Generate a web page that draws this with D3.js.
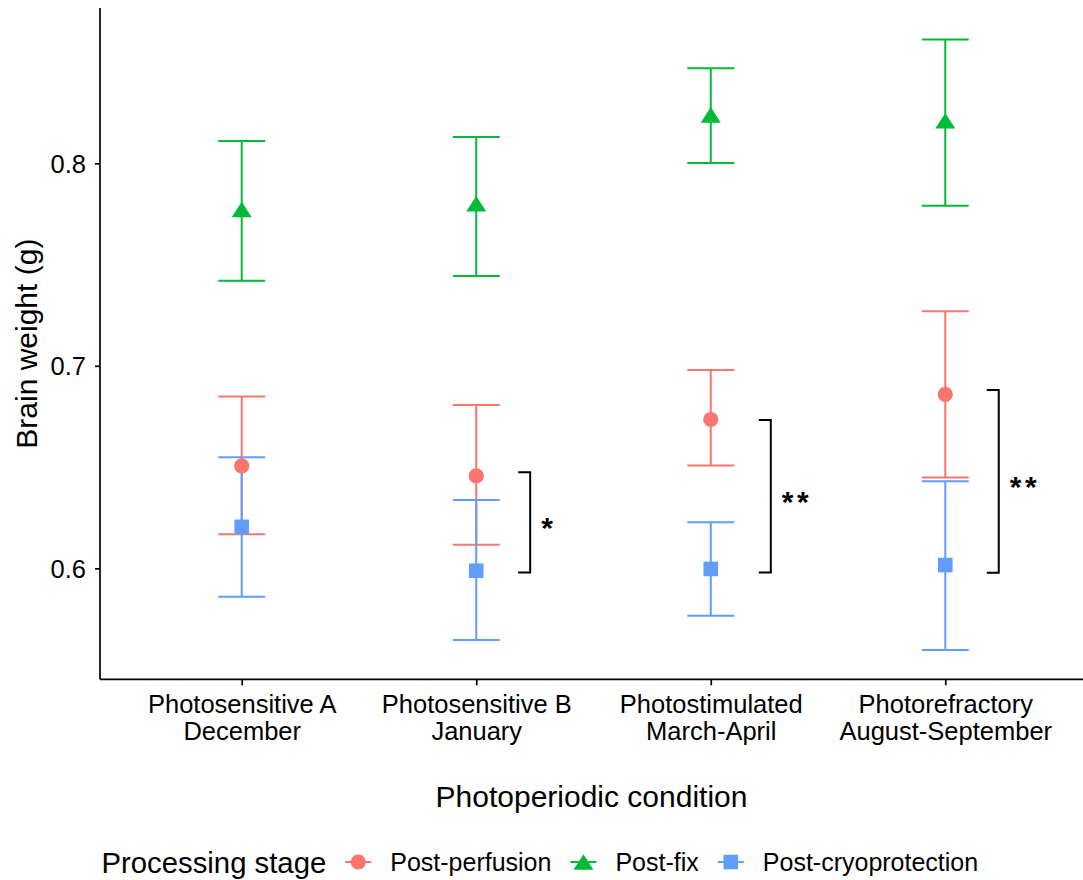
<!DOCTYPE html>
<html>
<head>
<meta charset="utf-8">
<script src="https://cdn.jsdelivr.net/npm/d3@7"></script>
<style>
  html, body { margin: 0; padding: 0; background: #fff; }
  svg { display: block; font-family: "Liberation Sans", Arial, Helvetica, sans-serif; }
</style>
</head>
<body>
<svg id="chart" width="1083" height="880"></svg>
<script>
// ---- data ----
const categories = [
  "Photosensitive A\nDecember",
  "Photosensitive B\nJanuary",
  "Photostimulated\nMarch-April",
  "Photorefractory\nAugust-September"
];
const stages = ["Post-perfusion", "Post-fix", "Post-cryoprotection"];
const stageColors = ["#F8766D", "#00BA38", "#619CFF"];
const stageShapes = ["circle", "triangle", "square"];

const perfusionMean = [0.6506, 0.6457, 0.6735, 0.6859];
const perfusionLow  = [0.6168, 0.6117, 0.6508, 0.6449];
const perfusionHigh = [0.6849, 0.6806, 0.6979, 0.7269];

const fixMean = [0.7772, 0.7800, 0.8239, 0.8210];
const fixLow  = [0.7420, 0.7443, 0.8001, 0.7791];
const fixHigh = [0.8110, 0.8130, 0.8470, 0.8612];

const cryoMean = [0.6205, 0.5988, 0.5997, 0.6016];
const cryoLow  = [0.5860, 0.5646, 0.5766, 0.5597];
const cryoHigh = [0.6549, 0.6337, 0.6227, 0.6430];

const yTicks = [0.6, 0.7, 0.8];

// significance brackets
const bracketGroup  = [1, 2, 3];
const bracketTop    = [0.6474, 0.6732, 0.6880];
const bracketBottom = [0.5980, 0.5980, 0.5978];
const bracketLabel  = ["*", "**", "**"];
const bracketOffset = [0.23, 0.256, 0.228]; // in category steps

// ---- build ----
const means = [perfusionMean, fixMean, cryoMean];
const lows  = [perfusionLow, fixLow, cryoLow];
const highs = [perfusionHigh, fixHigh, cryoHigh];
const rows = [];
stages.forEach((s, si) => {
  categories.forEach((c, ci) => {
    rows.push({stage: si, cat: c, mean: means[si][ci], low: lows[si][ci], high: highs[si][ci]});
  });
});

const svg = d3.select("#chart");
const pLeft = 100, pRight = 1083, pTop = 8, pBottom = 679.3;
const smallFont = 25.5, bigFont = 30;

const x = d3.scalePoint().domain(categories).range([101, 1086]).padding(0.6);
const y = d3.scaleLinear().domain([0.5452, 0.8767]).range([pBottom, pTop]);
const step = x.step();

// axes
const yAxis = svg.append("g")
  .attr("transform", `translate(${pLeft},0)`)
  .call(d3.axisLeft(y).tickValues(yTicks).tickFormat(d3.format(".1f")).tickSize(5).tickPadding(9));
yAxis.select(".domain").attr("d", `M0,${pTop}V${pBottom}`).attr("stroke", "#000").attr("stroke-width", 1.7);
yAxis.selectAll(".tick line").attr("stroke", "#000").attr("stroke-width", 1.7);
yAxis.selectAll(".tick text").attr("font-size", smallFont).attr("fill", "#000")
  .attr("font-family", "Liberation Sans, Arial, sans-serif").attr("dy", "0.35em");

const xAxis = svg.append("g")
  .attr("transform", `translate(0,${pBottom})`)
  .call(d3.axisBottom(x).tickSize(6).tickFormat(""));
xAxis.select(".domain").attr("d", `M${pLeft},0H${pRight}`).attr("stroke", "#000").attr("stroke-width", 1.7);
xAxis.selectAll(".tick line").attr("stroke", "#000").attr("stroke-width", 1.7);
xAxis.selectAll(".tick").each(function(d) {
  const t = d3.select(this).append("text")
    .attr("text-anchor", "middle").attr("font-size", smallFont).attr("fill", "#000")
    .attr("font-family", "Liberation Sans, Arial, sans-serif");
  d.split("\n").forEach((line, i) => {
    t.append("tspan").attr("x", 0).attr("y", 34 + i * 27).text(line);
  });
});

// axis titles
svg.append("text")
  .attr("x", (pLeft + pRight) / 2).attr("y", 807)
  .attr("text-anchor", "middle").attr("font-size", bigFont).attr("fill", "#000")
  .text("Photoperiodic condition");
svg.append("text")
  .attr("transform", `translate(37,${(pTop + pBottom) / 2}) rotate(-90)`)
  .attr("text-anchor", "middle").attr("font-size", bigFont).attr("fill", "#000")
  .text("Brain weight (g)");

// error bars
const capHalf = step * 0.1;
const eb = svg.append("g").selectAll("g").data(rows).join("g")
  .attr("stroke", d => stageColors[d.stage]).attr("stroke-width", 2).attr("fill", "none");
eb.append("line")
  .attr("x1", d => x(d.cat)).attr("x2", d => x(d.cat))
  .attr("y1", d => y(d.low)).attr("y2", d => y(d.high));
eb.append("line")
  .attr("x1", d => x(d.cat) - capHalf).attr("x2", d => x(d.cat) + capHalf)
  .attr("y1", d => y(d.low)).attr("y2", d => y(d.low));
eb.append("line")
  .attr("x1", d => x(d.cat) - capHalf).attr("x2", d => x(d.cat) + capHalf)
  .attr("y1", d => y(d.high)).attr("y2", d => y(d.high));

// marker shapes
function shapePath(shape) {
  if (shape === "circle") return d3.symbol(d3.symbolCircle, 7.6 * 7.6 * Math.PI)();
  if (shape === "square") return "M-7.3,-7.3H7.3V7.3H-7.3Z";
  // triangle with bounding box centred at origin
  return "M0,-7.8L10,7.8L-10,7.8Z";
}
svg.append("g").selectAll("path").data(rows).join("path")
  .attr("transform", d => `translate(${x(d.cat)},${y(d.mean)})`)
  .attr("d", d => shapePath(stageShapes[d.stage]))
  .attr("fill", d => stageColors[d.stage]);

// brackets
const arm = 12;
bracketGroup.forEach((gi, i) => {
  const bx = x(categories[gi]) + bracketOffset[i] * step;
  const y1 = y(bracketTop[i]), y2 = y(bracketBottom[i]);
  svg.append("path")
    .attr("d", `M${bx - arm},${y1}H${bx}V${y2}H${bx - arm}`)
    .attr("fill", "none").attr("stroke", "#000").attr("stroke-width", 2);
  svg.append("text")
    .attr("x", bx + 11).attr("y", (y1 + y2) / 2 + 16)
    .attr("font-size", 30).attr("font-weight", "bold").attr("fill", "#000")
    .attr("letter-spacing", 3.5)
    .text(bracketLabel[i]);
});

// legend
const legY = 862;
const lg = svg.append("g");
const title = lg.append("text").attr("x", 101.5).attr("y", legY + 10.5)
  .attr("font-size", 29.3).attr("fill", "#000").text("Processing stage");
let cx = 101.5 + title.node().getComputedTextLength() + 19;
stages.forEach((s, si) => {
  lg.append("line").attr("x1", cx).attr("x2", cx + 26).attr("y1", legY).attr("y2", legY)
    .attr("stroke", stageColors[si]).attr("stroke-width", 2);
  lg.append("path").attr("transform", `translate(${cx + 13},${legY})`)
    .attr("d", shapePath(stageShapes[si])).attr("fill", stageColors[si]);
  const t = lg.append("text").attr("x", cx + 45).attr("y", legY + 9)
    .attr("font-size", 25).attr("fill", "#000").text(s);
  cx = cx + 45 + t.node().getComputedTextLength() + 19;
});
</script>
</body>
</html>
